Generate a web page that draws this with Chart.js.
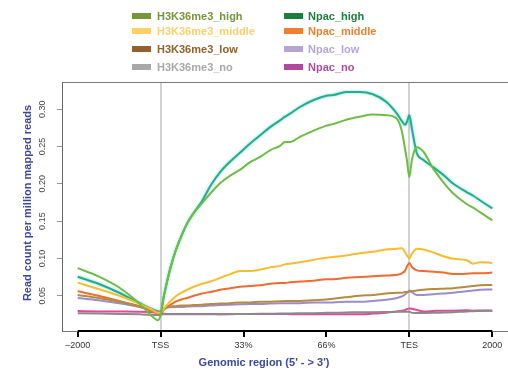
<!DOCTYPE html>
<html>
<head>
<meta charset="utf-8">
<script src="https://cdn.jsdelivr.net/npm/chart.js@4.4.1/dist/chart.umd.min.js"></script>
<style>
    html, body { margin: 0; padding: 0; background: #fff; }
    #wrap { width: 508px; height: 372px; }
</style>
</head>
<body>
<div id="wrap"><canvas id="profile" width="508" height="372"></canvas></div>
<script>
// bin positions along the metagene: 0 = -2000, 1 = TSS, 4 = TES, 5 = +2000
var positions = [0, 0.25, 0.5, 0.75, 0.9, 0.97, 1.0, 1.04, 1.08, 1.12, 1.18, 1.25, 1.32, 1.4, 1.5, 1.6,
    1.72, 1.84, 1.96, 2.08, 2.2, 2.32, 2.44, 2.5, 2.56, 2.68, 2.84, 3.0, 3.08, 3.24, 3.4, 3.56,
    3.72, 3.85, 3.91, 3.95, 3.97, 4.0, 4.03, 4.09, 4.17, 4.29, 4.41, 4.53, 4.69, 4.77, 4.85, 5.0]

var xTickLabels = ['\u20132000', 'TSS', '33%', '66%', 'TES', '2000']
var yTicks = [0.05, 0.10, 0.15, 0.20, 0.25, 0.30]

var h3High = [0.087, 0.076, 0.061, 0.039, 0.022, 0.017, 0.024, 0.050, 0.070, 0.088, 0.110, 0.130, 0.147, 0.161, 0.174, 0.187,
    0.201, 0.211, 0.219, 0.229, 0.236, 0.245, 0.251, 0.256, 0.256, 0.263, 0.271, 0.278, 0.280, 0.286, 0.290, 0.293,
    0.292, 0.287, 0.270, 0.245, 0.232, 0.209, 0.232, 0.249, 0.243, 0.220, 0.202, 0.187, 0.173, 0.168, 0.162, 0.151]
var h3Middle = [0.0675, 0.059, 0.050, 0.039, 0.031, 0.027, 0.027, 0.033, 0.038, 0.043, 0.049, 0.054, 0.058, 0.062, 0.066, 0.069,
    0.074, 0.079, 0.083, 0.083, 0.085, 0.088, 0.090, 0.092, 0.093, 0.095, 0.098, 0.101, 0.102, 0.104, 0.107, 0.109,
    0.112, 0.113, 0.1135, 0.108, 0.104, 0.100, 0.106, 0.113, 0.112, 0.108, 0.103, 0.0995, 0.0975, 0.093, 0.095, 0.094]
var h3Low = [0.051, 0.047, 0.042, 0.036, 0.031, 0.028, 0.028, 0.033, 0.035, 0.036, 0.036, 0.037, 0.037, 0.0375, 0.038, 0.039,
    0.0395, 0.040, 0.041, 0.041, 0.042, 0.042, 0.0425, 0.043, 0.043, 0.043, 0.044, 0.045, 0.046, 0.048, 0.050, 0.051,
    0.053, 0.054, 0.054, 0.055, 0.055, 0.0555, 0.056, 0.057, 0.058, 0.059, 0.0595, 0.060, 0.062, 0.063, 0.064, 0.0645]
var h3No = [0.0265, 0.026, 0.0255, 0.025, 0.0245, 0.024, 0.0245, 0.025, 0.025, 0.025, 0.025, 0.025, 0.025, 0.025, 0.0252, 0.0252,
    0.0253, 0.0254, 0.0255, 0.0256, 0.0257, 0.0258, 0.026, 0.026, 0.0262, 0.0264, 0.0266, 0.027, 0.0272, 0.0275, 0.028, 0.028,
    0.0282, 0.0285, 0.0285, 0.0286, 0.0286, 0.0286, 0.027, 0.0268, 0.0268, 0.027, 0.0275, 0.028, 0.029, 0.0292, 0.0295, 0.030]
var npacHigh = [0.0755, 0.066, 0.054, 0.040, 0.032, 0.029, 0.028, 0.050, 0.070, 0.088, 0.110, 0.130, 0.147, 0.161, 0.177, 0.197,
    0.216, 0.230, 0.242, 0.254, 0.265, 0.276, 0.285, 0.290, 0.294, 0.303, 0.312, 0.318, 0.319, 0.323, 0.323, 0.320,
    0.310, 0.294, 0.284, 0.279, 0.283, 0.292, 0.274, 0.241, 0.232, 0.222, 0.212, 0.200, 0.189, 0.184, 0.178, 0.167]
var npacMiddle = [0.056, 0.050, 0.043, 0.035, 0.029, 0.026, 0.026, 0.031, 0.035, 0.038, 0.042, 0.045, 0.047, 0.050, 0.053, 0.055,
    0.058, 0.060, 0.062, 0.063, 0.064, 0.066, 0.067, 0.067, 0.068, 0.069, 0.070, 0.072, 0.072, 0.074, 0.075, 0.076,
    0.077, 0.078, 0.080, 0.084, 0.089, 0.094, 0.0885, 0.084, 0.083, 0.082, 0.081, 0.079, 0.0795, 0.080, 0.080, 0.081]
var npacLow = [0.047, 0.044, 0.040, 0.035, 0.031, 0.029, 0.029, 0.033, 0.034, 0.0345, 0.035, 0.035, 0.0355, 0.036, 0.036, 0.037,
    0.0375, 0.038, 0.0385, 0.039, 0.039, 0.0395, 0.040, 0.040, 0.040, 0.040, 0.041, 0.041, 0.041, 0.042, 0.042, 0.043,
    0.0445, 0.047, 0.049, 0.052, 0.054, 0.057, 0.055, 0.051, 0.051, 0.052, 0.053, 0.054, 0.056, 0.057, 0.058, 0.0585]
var npacNo = [0.0295, 0.029, 0.0288, 0.0285, 0.028, 0.0275, 0.0265, 0.0258, 0.0256, 0.0255, 0.0255, 0.0255, 0.0254, 0.0254, 0.0255, 0.0254,
    0.0253, 0.0253, 0.0254, 0.0255, 0.0254, 0.0254, 0.0255, 0.0254, 0.0253, 0.0253, 0.0252, 0.0252, 0.0251, 0.025, 0.025, 0.026,
    0.0272, 0.029, 0.0299, 0.031, 0.032, 0.033, 0.0326, 0.031, 0.029, 0.0295, 0.030, 0.030, 0.0304, 0.030, 0.0302, 0.030]

var seriesNames = ['H3K36me3_high', 'H3K36me3_middle', 'H3K36me3_low', 'H3K36me3_no',
    'Npac_high', 'Npac_middle', 'Npac_low', 'Npac_no']
var seriesValues = [h3High, h3Middle, h3Low, h3No, npacHigh, npacMiddle, npacLow, npacNo]
var lineColors = ['#6cbd45', '#f7bd2e', '#b68b3d', '#8a8a8a', '#1fae92', '#f26b2e', '#9c8bcd', '#e8449c']
var legendColors = ['#76963c', '#fdd06a', '#94602e', '#a8a8a8', '#1b7d3f', '#f08030', '#b5a5d5', '#b04a9c']

var titleBlue = '#3a48a0'
var fontFamily = '"Liberation Sans", Arial, sans-serif'

function toPoints(values) {
    return values.map(function(v, i) { return {x: positions[i], y: v} })
}

// legend in two columns of four, drawn above the plot
var legendPlugin = {
    id: 'twoColLegend',
    afterDraw: function(chart) {
        var ctx = chart.ctx
        var rowY = [16, 31, 49, 67]
        var cols = [{box: 132, text: 157}, {box: 284, text: 308}]
        ctx.save()
        ctx.font = 'bold 11px ' + fontFamily
        ctx.textBaseline = 'middle'
        ctx.textAlign = 'left'
        for (let i = 0; i < seriesNames.length; i++) {
            var c = cols[Math.floor(i / 4)]
            var y = rowY[i % 4]
            ctx.fillStyle = legendColors[i]
            ctx.fillRect(c.box, y - 3, 19, 6)
            ctx.fillText(seriesNames[i], c.text, y + 0.5)
        }
        ctx.restore()
    }
}

// box lines, black x axis segment, rotated y labels and axis titles
var framePlugin = {
    id: 'frame',
    beforeDatasetsDraw: function(chart) {
        var ctx = chart.ctx
        var area = chart.chartArea
        ctx.save()
        ctx.strokeStyle = '#777'
        ctx.lineWidth = 1
        ctx.beginPath()
        ctx.moveTo(area.left, area.top + 0.5)
        ctx.lineTo(area.right, area.top + 0.5)
        ctx.stroke()
        ctx.restore()
    },
    afterDraw: function(chart) {
        var ctx = chart.ctx
        var area = chart.chartArea
        var xs = chart.scales.x
        var ys = chart.scales.y
        ctx.save()
        ctx.strokeStyle = '#000'
        ctx.lineWidth = 2
        ctx.beginPath()
        ctx.moveTo(xs.getPixelForValue(0), area.bottom)
        ctx.lineTo(xs.getPixelForValue(5), area.bottom)
        ctx.stroke()

        ctx.fillStyle = '#444'
        ctx.font = '9px ' + fontFamily
        ctx.textAlign = 'center'
        ctx.textBaseline = 'middle'
        yTicks.forEach(function(v) {
            ctx.save()
            ctx.translate(43, ys.getPixelForValue(v))
            ctx.rotate(-Math.PI / 2)
            ctx.fillText(v.toFixed(2), 0, 0)
            ctx.restore()
        })

        ctx.fillStyle = titleBlue
        ctx.font = 'bold 11px ' + fontFamily
        ctx.save()
        ctx.translate(28, 203)
        ctx.rotate(-Math.PI / 2)
        ctx.fillText('Read count per million mapped reads', 0, 0)
        ctx.restore()
        ctx.fillText("Genomic region (5' - > 3')", 264, 363)
        ctx.restore()
    }
}

// soft halo around the Npac_high profile
var haloPlugin = {
    id: 'halo',
    beforeDatasetDraw: function(chart, args) {
        if (args.index == 4) {
            chart.ctx.save()
            chart.ctx.shadowColor = 'rgba(40, 180, 150, 0.55)'
            chart.ctx.shadowBlur = 3
        }
    },
    afterDatasetDraw: function(chart, args) {
        if (args.index == 4) {
            chart.ctx.restore()
        }
    }
}

var datasets = seriesNames.map(function(name, i) {
    return {
        label: name,
        data: toPoints(seriesValues[i]),
        borderColor: lineColors[i],
        backgroundColor: lineColors[i],
        borderWidth: 2,
        pointRadius: 0,
        cubicInterpolationMode: 'monotone',
        fill: false,
    }
})

new Chart(document.getElementById('profile'), {
    type: 'line',
    data: {datasets: datasets},
    options: {
        responsive: false,
        animation: false,
        devicePixelRatio: 1,
        layout: {padding: {top: 82, left: 0, right: 0, bottom: 0}},
        plugins: {
            legend: {display: false},
            tooltip: {enabled: false},
        },
        scales: {
            x: {
                type: 'linear',
                min: -0.1893,
                max: 5.1894,
                afterBuildTicks: function(scale) {
                    scale.ticks = xTickLabels.map(function(t, i) { return {value: i} })
                },
                afterFit: function(scale) { scale.height = 41 },
                border: {display: true, color: '#777', width: 1},
                grid: {
                    drawOnChartArea: true,
                    color: function(c) {
                        return (c.tick && (c.tick.value == 1 || c.tick.value == 4)) ? '#d2d2d2' : 'rgba(0,0,0,0)'
                    },
                    lineWidth: 2,
                    tickColor: '#000',
                    tickLength: 6,
                    tickWidth: 2,
                },
                ticks: {
                    autoSkip: false,
                    maxRotation: 0,
                    padding: 3,
                    color: '#333',
                    font: {family: fontFamily, size: 9},
                    callback: function(value) { return xTickLabels[value] },
                },
            },
            y: {
                type: 'linear',
                min: 0.0027,
                max: 0.3365,
                afterBuildTicks: function(scale) {
                    scale.ticks = yTicks.map(function(v) { return {value: v} })
                },
                afterFit: function(scale) { scale.width = 62 },
                border: {display: true, color: '#666', width: 1},
                grid: {
                    drawOnChartArea: false,
                    tickColor: '#999',
                    tickLength: 5,
                    tickWidth: 1,
                },
                ticks: {display: false},
            },
        },
    },
    plugins: [haloPlugin, framePlugin, legendPlugin],
})
</script>
</body>
</html>
